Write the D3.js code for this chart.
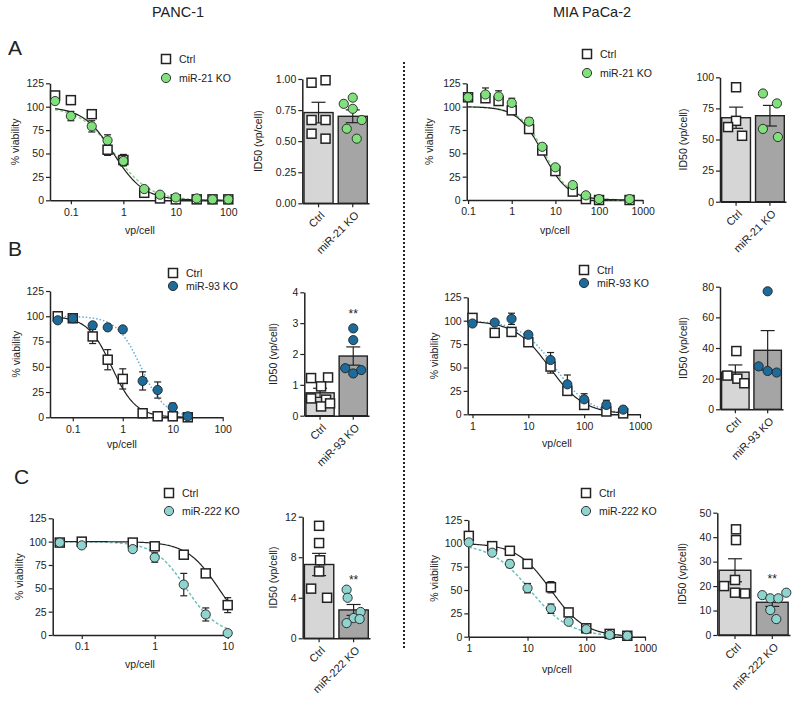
<!DOCTYPE html>
<html><head><meta charset="utf-8">
<script src="https://cdn.jsdelivr.net/npm/d3@7"></script>
<style>
body{margin:0;background:#fff}
svg{display:block}
text{font-family:"Liberation Sans",Arial,sans-serif;fill:#222}
</style>
</head><body>
<svg id="c" width="799" height="704"></svg>
<script>
// ---------------- DATA ----------------
const cellLines = ["PANC-1", "MIA PaCa-2"];
const panelLetters = ["A", "B", "C"];
const koLabels = ["miR-21 KO", "miR-93 KO", "miR-222 KO"];
const groupLabels = ["Ctrl", "KO"];
const viabTicks = [0, 25, 50, 75, 100, 125];

// Row A, PANC-1 dose response (% viability)
const aPancDose = [0.05, 0.1, 0.25, 0.5, 1, 2.5, 5, 10, 25, 50, 100];
const aPancCtrl = [112, 107, 92, 54, 43, 8, 2, 1, 1, 1, 1];
const aPancCtrlSem = [2, 2, 2, 6, 6, 1, 1, 0, 0, 0, 0];
const aPancKO = [106, 90, 79, 64, 42, 12, 6, 3, 2, 1, 1];
const aPancKOSem = [2, 5, 6, 6, 5, 2, 1, 1, 0, 0, 0];
const aPancFit = [0.65, 1.5, 0.68, 1.3]; // IC50 ctrl, hill ctrl, IC50 KO, hill KO
// Row A, MIA PaCa-2
const aMiaDose = [0.1, 0.25, 0.5, 1, 2.5, 5, 10, 25, 50, 100, 500];
const aMiaCtrl = [110, 109, 106, 96, 76, 53, 31, 9, 1, 0, 0];
const aMiaCtrlSem = [2, 3, 3, 3, 3, 3, 3, 2, 1, 0, 0];
const aMiaKO = [110, 113, 111, 104, 84, 57, 35, 16, 5, 1, 1];
const aMiaKOSem = [2, 7, 6, 5, 4, 3, 2, 2, 1, 0, 0];
const aMiaFit = [5.2, 1.5, 5.7, 1.5];
// Row B, PANC-1
const bPancDose = [0.05, 0.1, 0.25, 0.5, 1, 2.5, 5, 10, 20];
const bPancCtrl = [100, 98, 80, 57, 38, 4, 1, 1, 0];
const bPancCtrlSem = [2, 2, 7, 10, 10, 1, 1, 1, 0];
const bPancKO = [96, 98, 91, 89, 87, 36, 27, 10, 1];
const bPancKOSem = [2, 2, 2, 2, 2, 9, 8, 4, 1];
const bPancFit = [0.6, 1.8, 2.3, 1.8];
// Row B, MIA PaCa-2
const bMiaDose = [1, 2.5, 5, 10, 25, 50, 100, 250, 500];
const bMiaCtrl = [103, 87, 88, 77, 51, 25, 10, 3, 1];
const bMiaCtrlSem = [3, 3, 2, 3, 7, 3, 3, 1, 1];
const bMiaKO = [97, 98, 102, 85, 58, 32, 16, 10, 5];
const bMiaKOSem = [2, 2, 6, 3, 8, 10, 6, 5, 2];
const bMiaFit = [24, 1.4, 30, 1.4];
// Row C, PANC-1
const cPancDose = [0.05, 0.1, 0.5, 1, 2.5, 5, 10];
const cPancCtrl = [99, 100, 99, 95, 86, 66, 32];
const cPancCtrlSem = [1, 1, 1, 2, 3, 4, 8];
const cPancKO = [99, 96, 92, 83, 54, 22, 2];
const cPancKOSem = [1, 1, 2, 5, 12, 7, 1];
const cPancFit = [7.5, 2.0, 2.7, 2.0];
// Row C, MIA PaCa-2
const cMiaDose = [1, 2.5, 5, 10, 25, 50, 100, 250, 500];
const cMiaCtrl = [108, 97, 92, 78, 53, 26, 9, 3, 1];
const cMiaCtrlSem = [4, 4, 3, 4, 6, 4, 2, 1, 1];
const cMiaKO = [101, 90, 78, 52, 30, 16, 8, 2, 1];
const cMiaKOSem = [2, 3, 4, 5, 5, 2, 2, 1, 1];
const cMiaFit = [25, 1.5, 11, 1.3];

// ID50 (vp/cell) individual replicates
const aPancId50Ctrl = [0.97, 0.99, 0.67, 0.67, 0.56, 0.52];
const aPancId50KO = [0.85, 0.80, 0.76, 0.60, 0.52, 0.67];
const aMiaId50Ctrl = [92, 65, 60, 53];
const aMiaId50KO = [87, 79, 58.5, 52];
const bPancId50Ctrl = [1.22, 1.24, 0.95, 0.56, 0.52, 0.30, 0.40];
const bPancId50KO = [2.83, 2.45, 1.54, 1.37, 1.48];
const bMiaId50Ctrl = [38, 22, 20, 17];
const bMiaId50KO = [77, 28, 25, 24];
const cPancId50Ctrl = [11.1, 9.4, 7.7, 6.6, 4.9, 4.0];
const cPancId50KO = [4.8, 4.0, 2.6, 2.0, 1.5, 1.9];
const cMiaId50Ctrl = [43.2, 38.8, 22.5, 20, 17.3, 17];
const cMiaId50KO = [16.3, 15, 15, 17.3, 10.2, 6.5];

// ---------------- STYLE / LAYOUT ----------------
const koFill = ["#80e07c", "#1d6b9b", "#90d4cf"];
const koLine = ["#8fd290", "#5fb0dc", "#6cc2bb"];
const koDash = ["3,2", "1.5,2", "3,2"];
const ctrlBarFill = "#d6d6d6", koBarFill = "#a5a5a5";
const ink = "#222";

// jitter offsets (px) of replicate points in bar panels
const jit = {
  aPancCtrl: [-7, 7, -7, 7, -7, 7], aPancKO: [0, -9, 0, -6, 4, 9],
  aMiaCtrl: [0, 0, -8, 6], aMiaKO: [-7, 7, -7, 8],
  bPancCtrl: [-9, 8, 1, -9, 6, 1, 10], bPancKO: [0, 0, -8, 0, 8],
  bMiaCtrl: [1, -8, 2, 9], bMiaKO: [0, -9, 0, 9],
  cPancCtrl: [0, 0, 1, 0, -8, 8], cPancKO: [-7, -6, 7, 0, -7, 6],
  cMiaCtrl: [1, 1, 0, -11, 0, 10], cMiaKO: [-10, -2, 6, 14, -2, 4]
};

const curvePanels = [
  {row:0, dose:aPancDose, ctrl:aPancCtrl, ctrlSem:aPancCtrlSem, ko:aPancKO, koSem:aPancKOSem, fit:aPancFit,
   x0:50, x1:228.3, xDomain:[0.04,100], xTicks:[0.1,1,10,100], yb:200.3, yt:83.3, yTitleX:15, xTitle:[140,234], legend:[166,59,78]},
  {row:0, dose:aMiaDose, ctrl:aMiaCtrl, ctrlSem:aMiaCtrlSem, ko:aMiaKO, koSem:aMiaKOSem, fit:aMiaFit,
   x0:466.7, x1:642.7, xDomain:[0.093,1000], xTicks:[0.1,1,10,100,1000], yb:200, yt:83.3, yTitleX:429, xTitle:[555,234], legend:[587,54,73]},
  {row:1, dose:bPancDose, ctrl:bPancCtrl, ctrlSem:bPancCtrlSem, ko:bPancKO, koSem:bPancKOSem, fit:bPancFit,
   x0:50, x1:222.7, xDomain:[0.035,100], xTicks:[0.1,1,10,100], yb:417.3, yt:291, yTitleX:16, xTitle:[122,448], legend:[173,273,286]},
  {row:1, dose:bMiaDose, ctrl:bMiaCtrl, ctrlSem:bMiaCtrlSem, ko:bMiaKO, koSem:bMiaKOSem, fit:bMiaFit,
   x0:467.7, x1:640, xDomain:[0.82,1000], xTicks:[1,10,100,1000], yb:414.3, yt:297.3, yTitleX:434, xTitle:[557,447], legend:[584,270,283]},
  {row:2, dose:cPancDose, ctrl:cPancCtrl, ctrlSem:cPancCtrlSem, ko:cPancKO, koSem:cPancKOSem, fit:cPancFit,
   x0:52.7, x1:227.7, xDomain:[0.04,10], xTicks:[0.1,1,10], yb:635, yt:518.3, yTitleX:19, xTitle:[140,668], legend:[169,493,511]},
  {row:2, dose:cMiaDose, ctrl:cMiaCtrl, ctrlSem:cMiaCtrlSem, ko:cMiaKO, koSem:cMiaKOSem, fit:cMiaFit,
   x0:468.3, x1:645, xDomain:[0.98,1000], xTicks:[1,10,100,1000], yb:636.7, yt:520, yTitleX:434, xTitle:[557,673], legend:[586,493,511]}
];

const barPanels = [
  {row:0, ctrl:aPancId50Ctrl, ko:aPancId50KO, jc:jit.aPancCtrl, jk:jit.aPancKO, x0:302.3, x1:369, yb:203.3, yt:79, yMax:1, ticks:[0,0.25,0.5,0.75,1], fmt:d3.format(".2f"), titleX:258},
  {row:0, ctrl:aMiaId50Ctrl, ko:aMiaId50KO, jc:jit.aMiaCtrl, jk:jit.aMiaKO, x0:720, x1:786, yb:201.7, yt:77.3, yMax:100, ticks:[0,25,50,75,100], fmt:d3.format("d"), titleX:683},
  {row:1, ctrl:bPancId50Ctrl, ko:bPancId50KO, jc:jit.bPancCtrl, jk:jit.bPancKO, x0:304.3, x1:369, yb:415.7, yt:292.3, yMax:4, ticks:[0,1,2,3,4], fmt:d3.format("d"), titleX:273, star:3.3},
  {row:1, ctrl:bMiaId50Ctrl, ko:bMiaId50KO, jc:jit.bMiaCtrl, jk:jit.bMiaKO, x0:720, x1:783, yb:409.3, yt:286.7, yMax:80, ticks:[0,20,40,60,80], fmt:d3.format("d"), titleX:683},
  {row:2, ctrl:cPancId50Ctrl, ko:cPancId50KO, jc:jit.cPancCtrl, jk:jit.cPancKO, x0:302.7, x1:370, yb:638.3, yt:516.7, yMax:12, ticks:[0,4,8,12], fmt:d3.format("d"), titleX:273, star:5.8},
  {row:2, ctrl:cMiaId50Ctrl, ko:cMiaId50KO, jc:jit.cMiaCtrl, jk:jit.cMiaKO, x0:717.3, x1:790, yb:635, yt:512.7, yMax:50, ticks:[0,10,20,30,40,50], fmt:d3.format("d"), titleX:682, star:22.8}
];

// ---------------- DRAW ----------------
const svg = d3.select("#c");
svg.append("rect").attr("width",799).attr("height",704).attr("fill","#fff");

function styleAxis(g){
  g.select(".domain").attr("stroke", ink).attr("stroke-width", 1.5);
  g.selectAll(".tick line").attr("stroke", ink).attr("stroke-width", 1.2);
  g.selectAll(".tick text").attr("font-size", 10.5).attr("fill", "#333")
    .attr("font-family", '"Liberation Sans",Arial,sans-serif');
}

function square(g, cx, cy){
  g.append("rect").attr("x", cx-4.5).attr("y", cy-4.5).attr("width", 9).attr("height", 9)
    .attr("fill", "#fff").attr("stroke", ink).attr("stroke-width", 1.5);
}
function circle(g, cx, cy, fill){
  g.append("circle").attr("cx", cx).attr("cy", cy).attr("r", 4.6)
    .attr("fill", fill).attr("stroke", ink).attr("stroke-width", 0.9);
}
function errBar(g, cx, cyLo, cyHi, w){
  g.append("line").attr("x1",cx).attr("x2",cx).attr("y1",cyLo).attr("y2",cyHi).attr("stroke",ink).attr("stroke-width",1.2);
  [cyLo, cyHi].forEach(v => g.append("line").attr("x1",cx-w/2).attr("x2",cx+w/2).attr("y1",v).attr("y2",v).attr("stroke",ink).attr("stroke-width",1.2));
}

curvePanels.forEach(p => {
  const g = svg.append("g");
  const x = d3.scaleLog().domain(p.xDomain).range([p.x0, p.x1]);
  const y = d3.scaleLinear().domain([0,125]).range([p.yb, p.yt]);
  g.append("g").attr("transform", `translate(0,${p.yb})`)
    .call(d3.axisBottom(x).tickValues(p.xTicks).tickFormat(d => String(d)).tickSize(4).tickSizeOuter(0).tickPadding(4))
    .call(styleAxis);
  g.append("g").attr("transform", `translate(${p.x0},0)`)
    .call(d3.axisLeft(y).tickValues(viabTicks).tickSize(4).tickSizeOuter(0).tickPadding(2))
    .call(styleAxis);
  // axis titles
  g.append("text").attr("transform", `translate(${p.yTitleX},${(p.yb+p.yt)/2}) rotate(-90)`)
    .attr("text-anchor","middle").attr("dy","0.35em").attr("font-size",10.5).attr("fill","#333").text("% viability");
  g.append("text").attr("x", p.xTitle[0]).attr("y", p.xTitle[1]).attr("text-anchor","middle")
    .attr("font-size",10.5).attr("fill","#333").text("vp/cell");
  // fitted curves (4PL, top 100, bottom 0)
  const lo = d3.min(p.dose), hi = d3.max(p.dose);
  const grid = d3.range(160).map(i => lo * Math.pow(hi/lo, i/159));
  const model = (ic, h) => d => 100 / (1 + Math.pow(d/ic, h));
  const line = d3.line().x(d => x(d[0])).y(d => y(d[1]));
  const fK = model(p.fit[2], p.fit[3]);
  g.append("path").attr("d", line(grid.map(d => [d, fK(d)]))).attr("fill","none")
    .attr("stroke", koLine[p.row]).attr("stroke-width",1.5).attr("stroke-dasharray", koDash[p.row]);
  const fC = model(p.fit[0], p.fit[1]);
  g.append("path").attr("d", line(grid.map(d => [d, fC(d)]))).attr("fill","none")
    .attr("stroke", ink).attr("stroke-width",1.2);
  // error bars
  p.dose.forEach((d,i) => {
    if (p.ctrlSem[i] > 0) errBar(g, x(d), y(p.ctrl[i]-p.ctrlSem[i]), y(p.ctrl[i]+p.ctrlSem[i]), 7);
    if (p.koSem[i] > 0) errBar(g, x(d), y(p.ko[i]-p.koSem[i]), y(p.ko[i]+p.koSem[i]), 7);
  });
  p.dose.forEach((d,i) => square(g, x(d), y(p.ctrl[i])));
  p.dose.forEach((d,i) => circle(g, x(d), y(p.ko[i]), koFill[p.row]));
  // legend
  const [lx, ly1, ly2] = p.legend;
  square(g, lx, ly1);
  circle(g, lx, ly2, koFill[p.row]);
  g.append("text").attr("x", lx+13).attr("y", ly1).attr("dy","0.35em").attr("font-size",10.5).attr("fill","#333").text(groupLabels[0]);
  g.append("text").attr("x", lx+13).attr("y", ly2).attr("dy","0.35em").attr("font-size",10.5).attr("fill","#333").text(koLabels[p.row]);
});

barPanels.forEach(p => {
  const g = svg.append("g");
  const cats = [groupLabels[0], koLabels[p.row]];
  const x = d3.scaleBand().domain(cats).range([p.x0, p.x1]).paddingInner(0.15).paddingOuter(0.05);
  const y = d3.scaleLinear().domain([0, p.yMax]).range([p.yb, p.yt]);
  const groups = [p.ctrl, p.ko], jits = [p.jc, p.jk], fills = [ctrlBarFill, koBarFill];
  groups.forEach((vals, k) => {
    const m = d3.mean(vals);
    const sem = d3.deviation(vals) / Math.sqrt(vals.length);
    const bx = x(cats[k]), bw = x.bandwidth(), cx = bx + bw/2;
    g.append("rect").attr("x", bx).attr("y", y(m)).attr("width", bw).attr("height", y(0)-y(m))
      .attr("fill", fills[k]).attr("stroke", ink).attr("stroke-width", 1.4);
    errBar(g, cx, y(m-sem), y(m+sem), 14);
    vals.forEach((v,i) => {
      if (k === 0) square(g, cx + jits[k][i], y(v));
      else circle(g, cx + jits[k][i], y(v), koFill[p.row]);
    });
  });
  // axes
  const xa = g.append("g").attr("transform", `translate(0,${p.yb})`)
    .call(d3.axisBottom(x).tickSize(4).tickSizeOuter(0)).call(styleAxis);
  xa.selectAll(".tick text").attr("x",0).attr("y",0).attr("dy","0.35em")
    .attr("font-size", 11)
    .attr("transform","translate(4,10) rotate(-45)").style("text-anchor","end");
  g.append("g").attr("transform", `translate(${p.x0},0)`)
    .call(d3.axisLeft(y).tickValues(p.ticks).tickFormat(p.fmt).tickSize(4).tickSizeOuter(0).tickPadding(2))
    .call(styleAxis);
  g.append("text").attr("transform", `translate(${p.titleX},${(p.yb+p.yt)/2}) rotate(-90)`)
    .attr("text-anchor","middle").attr("dy","0.35em").attr("font-size",10.5).attr("fill","#333").text("ID50 (vp/cell)");
  if (p.star !== undefined) {
    g.append("text").attr("x", x(cats[1]) + x.bandwidth()/2).attr("y", y(p.star) + 4)
      .attr("text-anchor","middle").attr("font-size",12).attr("fill","#333").text("**");
  }
});

// titles, letters, divider
svg.append("text").attr("x",178).attr("y",17).attr("text-anchor","middle").attr("font-size",14.5).text(cellLines[0]);
svg.append("text").attr("x",592).attr("y",17).attr("text-anchor","middle").attr("font-size",14.5).text(cellLines[1]);
const letterPos = [[8,55],[8,256],[14,484]];
panelLetters.forEach((l,i) => svg.append("text").attr("x",letterPos[i][0]).attr("y",letterPos[i][1])
  .attr("font-size",21).text(l));
svg.append("line").attr("x1",404).attr("x2",404).attr("y1",62).attr("y2",650)
  .attr("stroke",ink).attr("stroke-width",2).attr("stroke-dasharray","2,2");
</script>
</body></html>
